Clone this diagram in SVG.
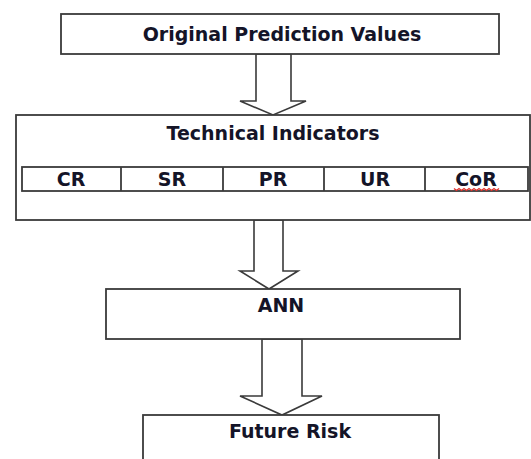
<svg xmlns="http://www.w3.org/2000/svg" width="531" height="459" viewBox="0 0 531 459">
<style>
.box{fill:#fff;stroke:#3a3a3a;stroke-width:1.8}
.cell{fill:none;stroke:#3a3a3a;stroke-width:1.8}
.arr{fill:#fff;stroke:#3a3a3a;stroke-width:1.6;stroke-linejoin:miter}
.t{font-family:"DejaVu Sans",Verdana,sans-serif;font-weight:bold;font-size:19px;fill:#141428;text-anchor:middle}
.sq{fill:none;stroke:#e0302a;stroke-width:1.3}
</style>
<rect width="531" height="459" fill="#fff"/>
<g id="connectors">
<polygon class="arr" points="256,54 291,54 291,101 306,101 273,115 240,101 256,101"/>
<polygon class="arr" points="254,220 283,220 283,271 298,271 269,289 240,271 254,271"/>
<polygon class="arr" points="262,339 302,339 302,396 322,396 282,415 240,396 262,396"/>
</g>
<g id="node-original">
<rect class="box" x="61" y="14" width="438" height="40"/>
<text class="t" x="282" y="41">Original Prediction Values</text>
</g>
<g id="node-technical">
<rect class="box" x="16" y="115" width="514" height="105"/>
<text class="t" x="273" y="140">Technical Indicators</text>
<g id="indicators">
<rect class="cell" x="22" y="167" width="506" height="24"/>
<line class="cell" x1="121" y1="167" x2="121" y2="191"/>
<line class="cell" x1="223" y1="167" x2="223" y2="191"/>
<line class="cell" x1="324" y1="167" x2="324" y2="191"/>
<line class="cell" x1="425" y1="167" x2="425" y2="191"/>
<text class="t" x="71" y="186">CR</text>
<text class="t" x="172" y="186">SR</text>
<text class="t" x="273" y="186">PR</text>
<text class="t" x="375" y="186">UR</text>
<text class="t" x="476" y="186">CoR</text>
<path class="sq" d="M454,188.5 l2.5,2 l2.5,-2 l2.5,2 l2.5,-2 l2.5,2 l2.5,-2 l2.5,2 l2.5,-2 l2.5,2 l2.5,-2 l2.5,2 l2.5,-2 l2.5,2 l2.5,-2 l2.5,2 l2.5,-2 l2.5,2 l2.5,-2"/>
</g>
</g>
<g id="node-ann">
<rect class="box" x="106" y="289" width="354" height="50"/>
<text class="t" x="281" y="312">ANN</text>
</g>
<g id="node-future">
<rect class="box" x="143" y="415" width="296" height="60"/>
<text class="t" x="290" y="438">Future Risk</text>
</g>
</svg>
